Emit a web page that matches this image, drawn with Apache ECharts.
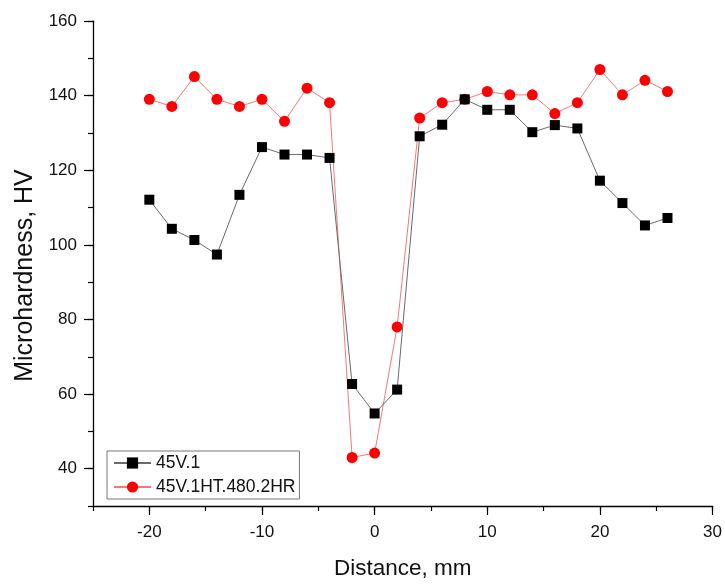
<!DOCTYPE html>
<html>
<head>
<meta charset="utf-8">
<script src="https://cdn.jsdelivr.net/npm/echarts@6/dist/echarts.min.js"></script>
<style>
  html, body { margin: 0; padding: 0; background: #fff; }
  #chart { width: 725px; height: 585px; }
</style>
</head>
<body>
<div id="chart"></div>
<script>
// Distance from the weld centre, mm
const distance = [-20, -18, -16, -14, -12, -10, -8, -6, -4, -2, 0, 2, 4, 6, 8, 10, 12, 14, 16, 18, 20, 22, 24, 26];

// Microhardness, HV
const hv45V1 = [112.1, 104.3, 101.3, 97.4, 113.4, 126.2, 124.2, 124.2, 123.3, 62.7, 54.8, 61.2,
                129.1, 132.2, 139.0, 136.2, 136.2, 130.2, 132.1, 131.2, 117.2, 111.2, 105.2, 107.2];
const hv45V1HT = [139.0, 137.1, 145.1, 139.0, 137.1, 139.0, 133.1, 142.0, 138.1, 43.0, 44.2, 78.0,
                  134.0, 138.1, 139.0, 141.1, 140.2, 140.2, 135.2, 138.1, 147.0, 140.2, 144.1, 141.1];

const seriesNames = ['45V.1', '45V.1HT.480.2HR'];

// Major tick positions (labelled)
const xMajor = [-20, -10, 0, 10, 20, 30];
const yMajor = [40, 60, 80, 100, 120, 140, 160];

const FONT = 'Liberation Sans, Arial, sans-serif';

const pairs = (xs, ys) => xs.map((x, i) => [x, ys[i]]);

const chart = echarts.init(document.getElementById('chart'));

const axisLine = { show: true, onZero: false, lineStyle: { color: '#000', width: 1.3 } };

chart.setOption({
  animation: false,
  backgroundColor: '#fff',
  grid: { left: 93, right: 12, top: 21, bottom: 75 },
  xAxis: [
    {
      type: 'value', min: -25, max: 30,
      axisLine: axisLine,
      splitLine: { show: false },
      axisTick: { show: true, length: 9, customValues: xMajor, lineStyle: { color: '#000', width: 1.2 } },
      axisLabel: { customValues: xMajor, margin: 18, color: '#111', fontSize: 17, fontFamily: FONT },
      name: 'Distance, mm', nameLocation: 'middle', nameGap: 51,
      nameTextStyle: { fontSize: 22.5, color: '#111', fontFamily: FONT }
    },
    {
      // minor ticks every 5 mm
      type: 'value', min: -25, max: 30, interval: 5, position: 'bottom',
      axisLine: { show: false, onZero: false },
      splitLine: { show: false },
      axisTick: { show: true, length: 5, lineStyle: { color: '#000', width: 1.2 } },
      axisLabel: { show: false }
    }
  ],
  yAxis: [
    {
      type: 'value', min: 30, max: 160,
      axisLine: axisLine,
      splitLine: { show: false },
      axisTick: { show: true, length: 9, customValues: yMajor, lineStyle: { color: '#000', width: 1.2 } },
      axisLabel: { customValues: yMajor, margin: 16, color: '#111', fontSize: 17, fontFamily: FONT },
      name: 'Microhardness, HV', nameLocation: 'middle', nameGap: 55, nameRotate: 90,
      nameTextStyle: { fontSize: 25, color: '#111', fontFamily: FONT, padding: [0, 24, 0, 0] }
    },
    {
      // minor ticks every 10 HV
      type: 'value', min: 30, max: 160, interval: 10, position: 'left',
      axisLine: { show: false, onZero: false },
      splitLine: { show: false },
      axisTick: { show: true, length: 5, lineStyle: { color: '#000', width: 1.2 } },
      axisLabel: { show: false }
    }
  ],
  legend: {
    orient: 'vertical',
    left: 107, top: 451,
    data: seriesNames,
    borderColor: '#777', borderWidth: 1, borderRadius: 0,
    padding: [3, 4, 3, 6],
    itemGap: 6,
    itemWidth: 37, itemHeight: 14,
    textStyle: { fontSize: 17.5, color: '#111', fontFamily: FONT }
  },
  series: [
    {
      name: seriesNames[1],
      type: 'line',
      data: pairs(distance, hv45V1HT),
      symbol: 'circle', symbolSize: 11,
      itemStyle: { color: '#ff0000' },
      lineStyle: { color: '#f07a7a', width: 1 },
      z: 2
    },
    {
      name: seriesNames[0],
      type: 'line',
      data: pairs(distance, hv45V1),
      symbol: 'rect', symbolSize: 10,
      itemStyle: { color: '#000' },
      lineStyle: { color: '#6a6a6a', width: 1 },
      z: 3
    }
  ]
});
</script>
</body>
</html>
